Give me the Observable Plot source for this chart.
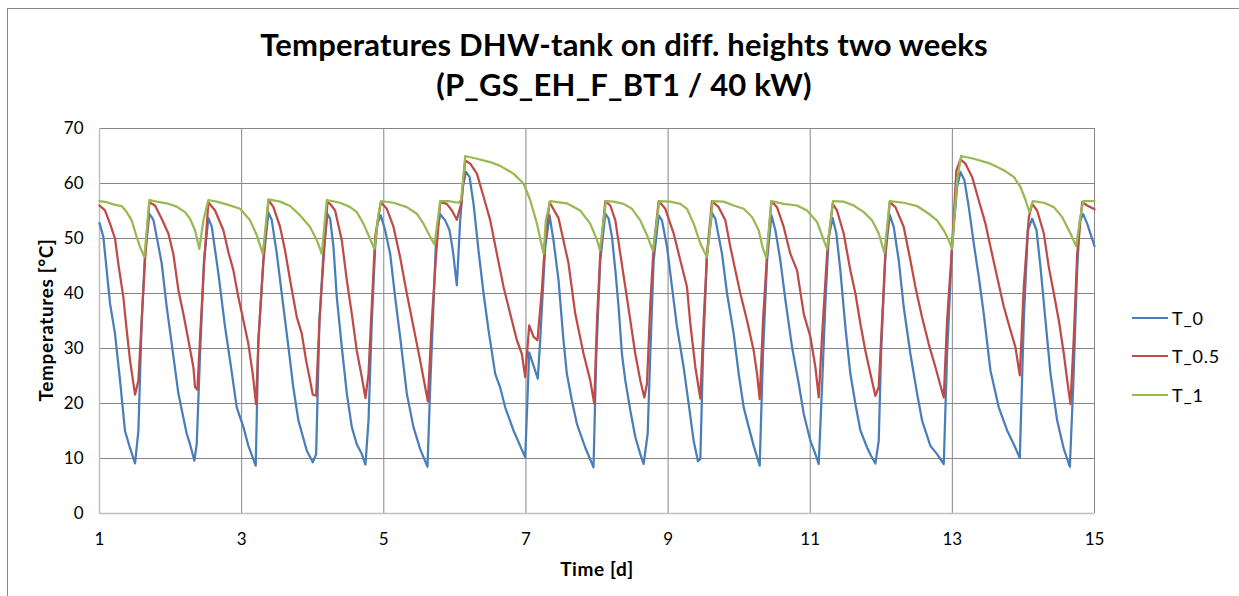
<!DOCTYPE html>
<html>
<head>
<meta charset="utf-8">
<script src="https://cdn.jsdelivr.net/npm/d3@7"></script>
<script src="https://cdn.jsdelivr.net/npm/@observablehq/plot@0.6"></script>
<style>
  html, body { margin: 0; padding: 0; background: #fff; }
  #wrap { position: relative; width: 1239px; height: 596px; overflow: hidden; font-family: Lato, "Open Sans", sans-serif; color: #000; }
  #frame { position: absolute; left: 7px; top: 8px; width: 1300px; height: 700px; border: 1px solid #898989; }
  #title { position: absolute; left: 0; width: 1248px; top: 24px; text-align: center; font-weight: bold; font-size: 31px; line-height: 40px; letter-spacing: 0.2px; }
  #chart { position: absolute; left: 0; top: 0; }
  #ylab { position: absolute; left: 45px; top: 320px; transform: translate(-50%, -50%) rotate(-90deg); font-weight: bold; font-size: 19px; letter-spacing: 0.6px; white-space: nowrap; }
  #xlab { position: absolute; left: 597px; top: 568px; transform: translate(-50%, -50%); font-weight: bold; font-size: 19px; letter-spacing: 0.6px; white-space: nowrap; }
  .leg { position: absolute; left: 1132px; height: 22px; transform: translateY(-50%); display: flex; align-items: center; font-size: 18px; letter-spacing: 0.8px; white-space: nowrap; }
  .leg span.sw { display: inline-block; width: 36px; height: 2px; margin-right: 4px; }
</style>
</head>
<body>
<div id="wrap">
  <div id="frame"></div>
  <div id="chart"></div>
  <div id="title">Temperatures DHW-tank on diff. heights two weeks<br>(P_GS_EH_F_BT1 / 40 kW)</div>
  <div id="ylab">Temperatures [°C]</div>
  <div id="xlab">Time [d]</div>
  <div id="legend"></div>
</div>
<script>
const xTicks = [1, 3, 5, 7, 9, 11, 13, 15];
const yTicks = [0, 10, 20, 30, 40, 50, 60, 70];
const seriesNames = ["T_0", "T_0.5", "T_1"];
const seriesColors = ["#4A7EBB", "#BE4B48", "#98B954"];

// T_0 (bottom of tank)
const t0Days = [1.000,1.054,1.148,1.218,1.289,1.359,1.420,1.500,1.547,1.594,1.640,1.702,1.758,1.805,1.875,1.945,2.016,2.110,2.227,2.274,2.335,2.368,2.415,2.471,2.532,2.579,2.673,2.767,2.837,2.931,3.025,3.095,3.198,3.236,3.306,3.377,3.423,3.494,3.564,3.658,3.726,3.799,3.917,4.001,4.048,4.095,4.151,4.208,4.245,4.292,4.339,4.409,4.480,4.550,4.620,4.691,4.742,4.785,4.832,4.879,4.911,4.958,5.019,5.090,5.160,5.230,5.324,5.418,5.512,5.615,5.653,5.700,5.737,5.794,5.864,5.925,5.972,6.028,6.075,6.113,6.155,6.207,6.263,6.333,6.404,6.474,6.568,6.638,6.708,6.825,6.990,7.046,7.167,7.200,7.271,7.333,7.388,7.459,7.529,7.576,7.647,7.717,7.834,7.951,7.990,8.046,8.117,8.164,8.211,8.258,8.304,8.351,8.398,8.469,8.539,8.609,8.656,8.713,8.750,8.797,8.868,8.914,8.985,9.055,9.126,9.219,9.290,9.360,9.421,9.454,9.492,9.548,9.618,9.665,9.759,9.830,9.923,9.994,10.064,10.135,10.205,10.289,10.336,10.393,10.454,10.510,10.580,10.651,10.745,10.839,10.909,11.003,11.073,11.120,11.166,11.213,11.260,11.316,11.368,11.424,11.495,11.565,11.636,11.706,11.800,11.856,11.917,11.964,11.997,12.058,12.119,12.175,12.246,12.316,12.410,12.504,12.574,12.691,12.785,12.879,12.926,12.996,13.067,13.114,13.170,13.231,13.301,13.372,13.442,13.536,13.653,13.771,13.864,13.949,14.005,14.062,14.123,14.184,14.240,14.310,14.381,14.475,14.569,14.653,14.700,14.756,14.794,14.841,14.897,15.000];
const t0Temps = [52.8,50.3,38.2,32.7,24.2,15.0,12.3,9.1,15.0,35.1,47.0,54.5,53.4,50.3,45.5,37.6,30.9,21.8,14.5,12.6,9.6,12.6,29.0,46.0,53.7,52.2,43.6,33.9,27.8,19.3,15.7,12.3,8.7,31.5,46.0,54.7,53.4,47.3,40.0,30.3,23.0,16.9,11.4,9.3,10.8,35.1,47.3,54.5,53.6,48.5,39.3,30.3,21.8,15.7,12.6,10.8,8.9,16.9,35.1,48.5,52.7,54.2,51.5,47.2,39.3,32.1,21.8,15.7,11.7,8.5,23.0,38.1,50.3,54.4,53.3,51.5,47.8,41.5,53.3,59.4,62.1,61.2,56.3,47.8,40.0,33.3,25.4,22.9,19.3,15.1,10.2,29.3,24.5,31.4,48.4,54.2,49.6,42.4,31.4,25.4,20.5,16.3,12.0,8.4,29.0,46.0,54.5,53.6,50.3,44.2,37.5,29.0,24.2,18.7,13.9,10.8,9.0,14.5,29.0,46.0,54.2,53.3,48.5,41.2,33.9,26.6,19.9,13.2,9.5,9.9,29.0,47.2,54.7,53.6,47.2,40.0,32.7,25.4,19.3,15.7,12.3,8.7,29.0,46.0,54.2,51.5,46.0,38.8,30.2,23.6,18.1,13.2,10.8,9.0,23.0,38.1,50.3,53.7,50.9,44.2,33.9,25.4,19.9,15.1,12.0,10.5,9.1,13.2,29.0,47.2,54.3,52.1,46.0,37.5,29.0,21.8,16.9,12.3,10.8,9.0,29.0,48.5,59.4,62.1,60.6,55.7,49.1,43.0,36.3,26.0,19.3,15.1,12.6,10.1,35.1,51.5,53.6,51.5,44.8,35.1,25.4,16.9,11.7,8.5,23.0,44.2,53.3,54.4,52.7,48.6];

// T_0.5 (middle of tank)
const t05Days = [1.000,1.077,1.148,1.218,1.265,1.336,1.383,1.430,1.500,1.547,1.594,1.640,1.702,1.781,1.875,1.969,2.039,2.110,2.180,2.251,2.321,2.344,2.377,2.415,2.471,2.532,2.626,2.743,2.814,2.884,2.954,3.025,3.095,3.156,3.203,3.236,3.306,3.377,3.447,3.541,3.611,3.682,3.776,3.846,3.907,3.963,4.001,4.048,4.095,4.151,4.208,4.245,4.315,4.409,4.480,4.550,4.620,4.691,4.742,4.785,4.832,4.879,4.958,5.043,5.137,5.230,5.324,5.418,5.512,5.582,5.620,5.676,5.737,5.794,5.887,5.958,6.028,6.089,6.146,6.216,6.310,6.404,6.498,6.591,6.685,6.779,6.873,6.943,6.990,7.046,7.108,7.163,7.224,7.271,7.333,7.459,7.599,7.693,7.810,7.905,7.961,8.000,8.046,8.117,8.187,8.258,8.328,8.398,8.469,8.539,8.609,8.666,8.703,8.750,8.797,8.868,8.961,9.079,9.173,9.266,9.313,9.384,9.454,9.501,9.548,9.618,9.712,9.806,9.876,9.947,10.017,10.111,10.205,10.252,10.289,10.336,10.393,10.454,10.533,10.627,10.721,10.815,10.909,11.003,11.073,11.120,11.166,11.237,11.316,11.377,11.471,11.565,11.636,11.706,11.776,11.847,11.917,11.964,12.011,12.058,12.119,12.199,12.316,12.410,12.480,12.574,12.668,12.762,12.879,12.926,12.996,13.057,13.114,13.184,13.278,13.372,13.466,13.536,13.630,13.724,13.818,13.888,13.949,14.005,14.076,14.123,14.193,14.287,14.357,14.428,14.498,14.569,14.616,14.662,14.709,14.756,14.827,14.897,15.000];
const t05Temps = [56.0,55.1,52.7,50.0,45.4,39.3,33.3,27.8,21.6,24.2,35.1,46.0,56.6,56.0,53.6,50.9,47.2,40.6,36.3,31.5,26.6,23.0,22.5,32.0,45.4,56.6,55.1,51.5,47.5,44.2,39.3,35.1,30.8,25.4,19.9,31.5,46.0,57.0,55.7,52.1,47.8,42.4,35.7,32.7,27.8,24.2,21.6,21.4,35.1,46.0,56.6,56.3,55.1,49.7,42.4,36.3,29.6,24.8,21.0,25.4,38.1,50.3,56.6,55.4,52.1,46.6,40.0,33.9,27.8,23.0,20.4,35.1,47.2,56.6,56.3,55.1,53.4,56.3,64.2,63.6,61.8,57.6,53.3,47.2,41.2,36.3,31.5,29.0,24.8,34.2,32.1,31.5,40.6,49.7,56.6,53.7,45.5,36.4,29.1,24.2,20.0,35.1,47.2,56.8,56.0,53.3,47.2,41.2,35.1,29.0,24.2,21.1,23.6,38.1,48.5,56.8,55.4,50.9,46.0,41.2,34.5,26.6,20.9,35.1,47.2,56.8,55.7,53.3,48.5,44.2,40.0,35.1,29.6,25.4,20.8,35.1,47.2,56.8,55.7,52.1,47.2,44.2,36.3,32.1,26.6,21.1,32.1,47.2,56.3,55.1,50.9,44.2,40.0,34.5,29.6,25.4,21.4,23.0,35.1,47.2,56.6,55.7,52.1,46.0,41.2,35.7,30.8,26.6,21.1,35.1,48.5,62.4,64.4,63.6,61.2,56.9,52.7,48.5,43.0,37.6,33.3,30.2,25.1,41.2,53.9,56.3,55.1,50.9,44.8,40.0,35.1,29.0,24.2,19.9,32.1,47.2,56.6,56.0,55.3];

// T_1 (top of tank)
const t1Days = [1.000,1.101,1.195,1.312,1.383,1.453,1.523,1.570,1.631,1.702,1.805,1.945,2.086,2.204,2.274,2.344,2.405,2.462,2.532,2.649,2.790,2.978,3.119,3.213,3.297,3.377,3.541,3.682,3.823,3.963,4.058,4.128,4.198,4.386,4.527,4.620,4.714,4.785,4.869,4.925,4.963,5.137,5.324,5.465,5.559,5.653,5.714,5.794,5.911,6.052,6.089,6.146,6.310,6.498,6.638,6.825,6.966,7.060,7.155,7.249,7.280,7.342,7.576,7.763,7.905,8.000,8.040,8.126,8.234,8.375,8.492,8.609,8.703,8.788,8.877,9.032,9.173,9.266,9.360,9.454,9.548,9.628,9.783,9.923,10.064,10.182,10.275,10.336,10.383,10.454,10.627,10.815,10.956,11.097,11.190,11.237,11.321,11.471,11.612,11.753,11.870,11.964,12.044,12.119,12.316,12.504,12.668,12.785,12.879,12.949,12.996,13.067,13.123,13.301,13.536,13.724,13.864,13.958,14.029,14.085,14.132,14.287,14.428,14.545,14.662,14.742,14.794,14.841,15.000];
const t1Temps = [56.8,56.6,56.2,55.9,54.8,53.3,50.3,48.5,46.6,57.0,56.7,56.4,55.8,54.8,53.6,51.5,48.1,53.3,57.0,56.7,56.2,55.4,53.3,50.6,47.2,57.1,56.7,55.9,54.2,52.1,49.7,47.2,57.0,56.5,55.7,54.8,52.7,50.6,48.1,54.5,56.8,56.5,55.7,54.5,52.7,50.3,48.9,56.8,56.8,56.5,57.0,65.0,64.5,63.9,63.2,61.8,60.0,57.0,52.7,47.2,53.3,56.8,56.4,55.1,52.7,49.7,47.9,56.8,56.7,56.3,55.4,53.3,50.6,47.7,56.8,56.7,56.3,55.4,52.7,49.1,46.6,56.8,56.7,56.0,55.4,53.9,51.5,48.1,46.5,56.8,56.3,56.0,55.1,53.0,49.7,48.1,56.8,56.7,56.0,54.8,53.3,50.9,47.4,56.8,56.5,55.9,54.5,53.3,51.5,49.7,48.1,60.6,65.0,64.5,63.6,62.4,61.2,59.4,57.0,54.8,56.8,56.5,55.7,53.9,50.9,48.6,53.3,56.8,56.8];

const seriesDays = [t0Days, t05Days, t1Days];
const seriesTemps = [t0Temps, t05Temps, t1Temps];
const rows = [];
seriesNames.forEach((name, i) => {
  seriesDays[i].forEach((d, j) => rows.push({series: name, day: d, temp: seriesTemps[i][j]}));
});

const chart = Plot.plot({
  width: 1239,
  height: 596,
  marginLeft: 99,
  marginRight: 145,
  marginTop: 128,
  marginBottom: 83,
  style: {fontFamily: "Lato, 'Open Sans', sans-serif", fontSize: "16px", color: "#000", background: "transparent", overflow: "visible"},
  x: {domain: [1, 15]},
  y: {domain: [0, 70]},
  color: {domain: seriesNames, range: seriesColors},
  marks: [
    Plot.ruleX(xTicks.slice(1), {stroke: "#868686", strokeWidth: 1}),
    Plot.ruleY(yTicks.slice(1), {stroke: "#868686", strokeWidth: 1}),
    Plot.ruleX([1], {stroke: "#bfbfbf", strokeWidth: 1.5}),
    Plot.ruleY([0], {stroke: "#bfbfbf", strokeWidth: 1.5}),
    Plot.axisX({ticks: xTicks, tickSize: 0, tickPadding: 19, label: null, tickFormat: d => String(d), fontSize: 17}),
    Plot.axisY({ticks: yTicks, tickSize: 0, tickPadding: 16, label: null, tickFormat: d => String(d), fontSize: 17}),
    Plot.line(rows, {x: "day", y: "temp", z: "series", stroke: "series", strokeWidth: 2.25, strokeLinejoin: "round", strokeLinecap: "round"})
  ]
});
document.getElementById("chart").appendChild(chart);

const legend = document.getElementById("legend");
const legendY = [318, 356, 395];
seriesNames.forEach((name, i) => {
  const item = document.createElement("div");
  item.className = "leg";
  item.style.top = legendY[i] + "px";
  const sw = document.createElement("span");
  sw.className = "sw";
  sw.style.background = seriesColors[i];
  const lab = document.createElement("span");
  lab.textContent = name;
  item.appendChild(sw);
  item.appendChild(lab);
  legend.appendChild(item);
});
</script>
</body>
</html>
